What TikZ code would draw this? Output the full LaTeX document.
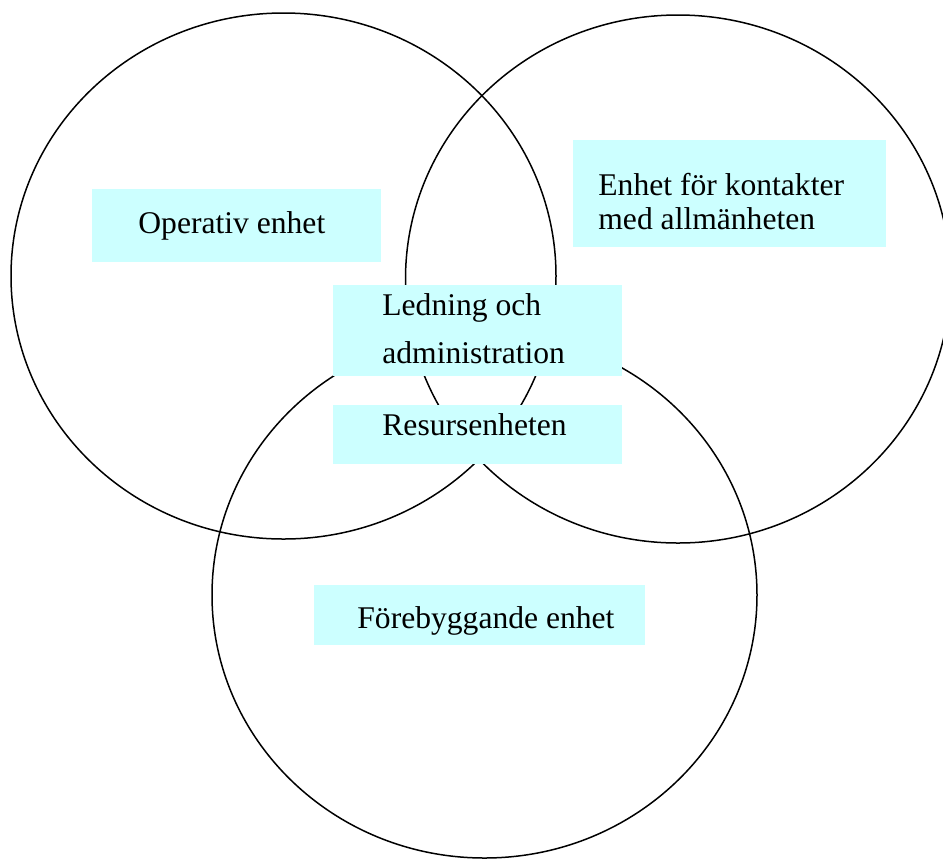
\documentclass[tikz,border=0pt]{standalone}
\usepackage{fontspec}
\setmainfont{Liberation Serif}
\definecolor{unitcyan}{RGB}{204,255,255}

\begin{document}
\begin{tikzpicture}[x=0.5pt,y=-0.5pt,
    ring/.style={draw=black,line width=0.75pt},
    box/.style={fill=unitcyan,inner sep=0pt,anchor=north west},
    lbl/.style={anchor=base west,inner sep=0pt,align=left,font=\fontsize{15.8}{17}\selectfont}]
\useasboundingbox (0,0) rectangle (943,858);
% the three units
\draw[ring] (283.5,276) ellipse [x radius=136.25pt,y radius=131.5pt];
\draw[ring] (678,279) ellipse [x radius=136.25pt,y radius=132pt];
\draw[ring] (484.5,595) ellipse [x radius=136.25pt,y radius=131.5pt];
% boxes
\node[box,minimum width=144.5pt,minimum height=36.5pt] (opbox) at (92,189) {};
\node[box,minimum width=156.5pt,minimum height=53.5pt] (kontbox) at (573,140) {};
\node[box,minimum width=144.5pt,minimum height=45.5pt] (ledbox) at (333,285) {};
\node[box,minimum width=144.5pt,minimum height=29.5pt] (resbox) at (333,405) {};
\node[box,minimum width=165.5pt,minimum height=30pt] (forbox) at (314,585) {};
% texts (base = last line)
\node[lbl] (op) at (138,233) {Operativ enhet};
\node[lbl] (kont) at (598,229) {Enhet för kontakter\\med allmänheten};
\node[lbl,font=\fontsize{15.8}{24}\selectfont] (led) at (382,363) {Ledning och\\administration};
\node[lbl] (res) at (382,435) {Resursenheten};
\node[lbl] (for) at (357,628) {Förebyggande enhet};
\end{tikzpicture}
\end{document}
